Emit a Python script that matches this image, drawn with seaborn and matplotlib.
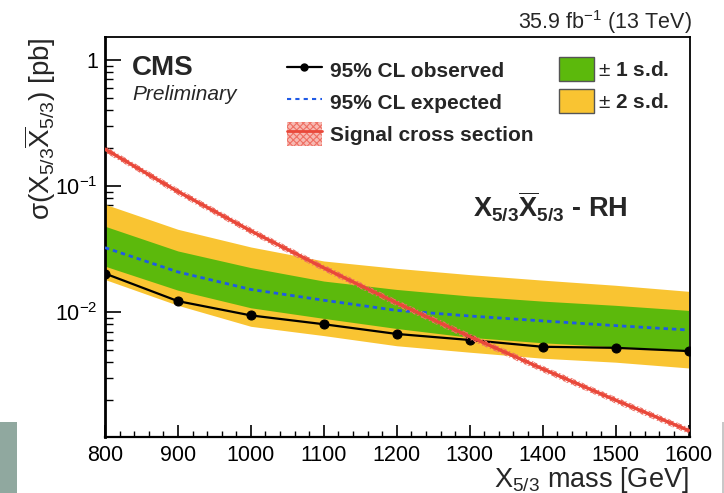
import matplotlib
matplotlib.use("Agg")
import matplotlib.pyplot as plt
from matplotlib.lines import Line2D
from matplotlib.patches import Patch, Rectangle
from matplotlib.ticker import FixedLocator, FixedFormatter, MultipleLocator, LogLocator, NullFormatter
import numpy as np
import pandas as pd
import seaborn as sns

# Limits on X5/3 pair production (right-handed), 35.9 fb^-1 at 13 TeV
mass = [800, 900, 1000, 1100, 1200, 1300, 1400, 1500, 1600]
observed = [0.0202, 0.0122, 0.0094, 0.0080, 0.0067, 0.0060, 0.0053, 0.0052, 0.0049]
expected = [0.0324, 0.0208, 0.0151, 0.0124, 0.0103, 0.0093, 0.0085, 0.0078, 0.0072]
band1_lo = [0.0231, 0.0149, 0.0108, 0.0089, 0.0074, 0.0063, 0.0057, 0.0053, 0.0050]
band1_hi = [0.0479, 0.0305, 0.0225, 0.0176, 0.0151, 0.0134, 0.0122, 0.0113, 0.0103]
band2_lo = [0.0181, 0.0113, 0.0077, 0.0065, 0.0054, 0.0048, 0.0043, 0.0040, 0.0036]
band2_hi = [0.0716, 0.0453, 0.0328, 0.0254, 0.0222, 0.0198, 0.0179, 0.0163, 0.0146]
signal_xsec = [0.196, 0.0903, 0.0440, 0.0224, 0.0118, 0.00639, 0.00354, 0.00200, 0.00115]
signal_unc = 0.06  # relative theory uncertainty drawn as hatched band

y_ticks = [1e-2, 1e-1, 1.0]
y_ticklabels = [r"$10^{-2}$", r"$10^{-1}$", "1"]
legend_left = ["95% CL observed", "95% CL expected", "Signal cross section"]
legend_right = [r"$\pm$ 1 s.d.", r"$\pm$ 2 s.d."]

df = pd.DataFrame({
    "mass": mass, "observed": observed, "expected": expected,
    "b1lo": band1_lo, "b1hi": band1_hi, "b2lo": band2_lo, "b2hi": band2_hi,
    "signal": signal_xsec,
})

sns.set_style("ticks")
plt.rcParams["font.family"] = ["Liberation Sans", "DejaVu Sans"]
plt.rcParams["mathtext.fontset"] = "custom"
plt.rcParams["mathtext.rm"] = "Liberation Sans"
plt.rcParams["mathtext.it"] = "Liberation Sans:italic"
plt.rcParams["mathtext.bf"] = "Liberation Sans:bold"
plt.rcParams["hatch.linewidth"] = 0.8

GREEN = "#5cb90c"
YELLOW = "#f9c432"
BLUE = "#1f5ae6"
RED = "#e9483a"

fig = plt.figure(figsize=(7.24, 4.93), dpi=100)
ax = fig.add_axes([0.145, 0.1136, 0.808, 0.8114])

ax.fill_between(df["mass"], df["b2lo"], df["b2hi"], color=YELLOW, lw=0, zorder=1)
ax.fill_between(df["mass"], df["b1lo"], df["b1hi"], color=GREEN, lw=0, zorder=2)

sns.lineplot(data=df, x="mass", y="expected", ax=ax, color=BLUE, lw=2,
             linestyle=(0, (1.6, 1.4)), zorder=3)
sns.lineplot(data=df, x="mass", y="observed", ax=ax, color="black", lw=1.6,
             marker="o", markersize=6.5, markeredgecolor="black", zorder=4)

ax.fill_between(df["mass"], df["signal"] * (1 - signal_unc), df["signal"] * (1 + signal_unc),
                facecolor="none", edgecolor="#ee6f63", hatch="xxxxxx", lw=0, zorder=5)
sns.lineplot(data=df, x="mass", y="signal", ax=ax, color=RED, lw=2.4, zorder=6)

ax.set_yscale("log")
ax.set_xlim(800, 1602)
ax.set_ylim(1.02e-3, 1.52)

ax.yaxis.set_major_locator(FixedLocator(y_ticks))
ax.yaxis.set_major_formatter(FixedFormatter(y_ticklabels))
ax.yaxis.set_minor_locator(LogLocator(base=10, subs=np.arange(2, 10)))
ax.yaxis.set_minor_formatter(NullFormatter())
ax.xaxis.set_major_locator(MultipleLocator(100))
ax.xaxis.set_minor_locator(MultipleLocator(20))

ax.tick_params(axis="both", which="both", direction="in", colors="black",
               labelsize=15.5, top=False, right=False)
ax.tick_params(axis="y", which="major", length=11.5, width=1.2, pad=5)
ax.tick_params(axis="y", which="minor", length=5.8, width=1.0)
ax.tick_params(axis="x", which="major", length=9, width=1.2, pad=5.5)
ax.tick_params(axis="x", which="minor", length=4.5, width=1.0)
for side in ["top", "right", "bottom", "left"]:
    ax.spines[side].set_visible(True)
    ax.spines[side].set_color("black")
    ax.spines[side].set_linewidth(1.3)
ax.spines["left"].set_linewidth(2)
ax.spines["bottom"].set_linewidth(1.6)
ax.grid(False)

ax.set_ylabel("σ($\\mathrm{X}_{5/3}\\overline{\\mathrm{X}}_{5/3}$) [pb]", fontsize=20, loc="top")
ax.yaxis.set_label_coords(-0.08, 1.0)
ax.set_xlabel("$\\mathrm{X}_{5/3}$ mass [GeV]", fontsize=19.5, loc="right")
ax.xaxis.set_label_coords(0.997, -0.071)

fig.text(0.1823, 0.848, "CMS", fontsize=20, fontweight="bold", va="baseline")
fig.text(0.1823, 0.797, "Preliminary", fontsize=15, style="italic", va="baseline")
fig.text(0.955, 0.9405, "35.9 fb$^{-1}$ (13 TeV)", fontsize=15.5, ha="right", va="baseline")
fig.text(0.654, 0.5605,
         r"$\mathbf{X}_{\mathbf{5/3}}\overline{\mathbf{X}}_{\mathbf{5/3}}$ - RH",
         fontsize=19.5, fontweight="bold", va="baseline")

obs_handle = Line2D([], [], color="black", lw=1.6, marker="o", markersize=5)
exp_handle = Line2D([], [], color=BLUE, lw=1.5, linestyle=(0, (2, 2)))
sig_handle = (Patch(facecolor="#f7b9b2", edgecolor="#ee6f63", hatch="xxxxx", lw=0),
              Line2D([], [], color=RED, lw=2))
legend_style = dict(loc="upper left", frameon=False, prop=dict(weight="bold", size=15),
                    handlelength=1.68, handleheight=1.40, labelspacing=0.38,
                    borderpad=0, borderaxespad=0)
leg1 = ax.legend([obs_handle, exp_handle, sig_handle], legend_left,
                 bbox_to_anchor=(0.311, 0.9475), handletextpad=0.38, **legend_style)
ax.add_artist(leg1)

band_handles = [Patch(facecolor=GREEN, edgecolor="#555555", lw=1),
                Patch(facecolor=YELLOW, edgecolor="#555555", lw=1)]
ax.legend(band_handles, legend_right, bbox_to_anchor=(0.7756, 0.95),
          handletextpad=0.19, **legend_style)

# screenshot edge strips
fig.patches.append(Rectangle((0, 0), 17 / 724, 71 / 493, transform=fig.transFigure,
                             facecolor="#90a89f", edgecolor="none"))
fig.patches.append(Rectangle((722 / 724, 0), 1.5 / 724, 71 / 493, transform=fig.transFigure,
                             facecolor="#c8c8c8", edgecolor="none"))

fig.savefig("out.png", dpi=100)
